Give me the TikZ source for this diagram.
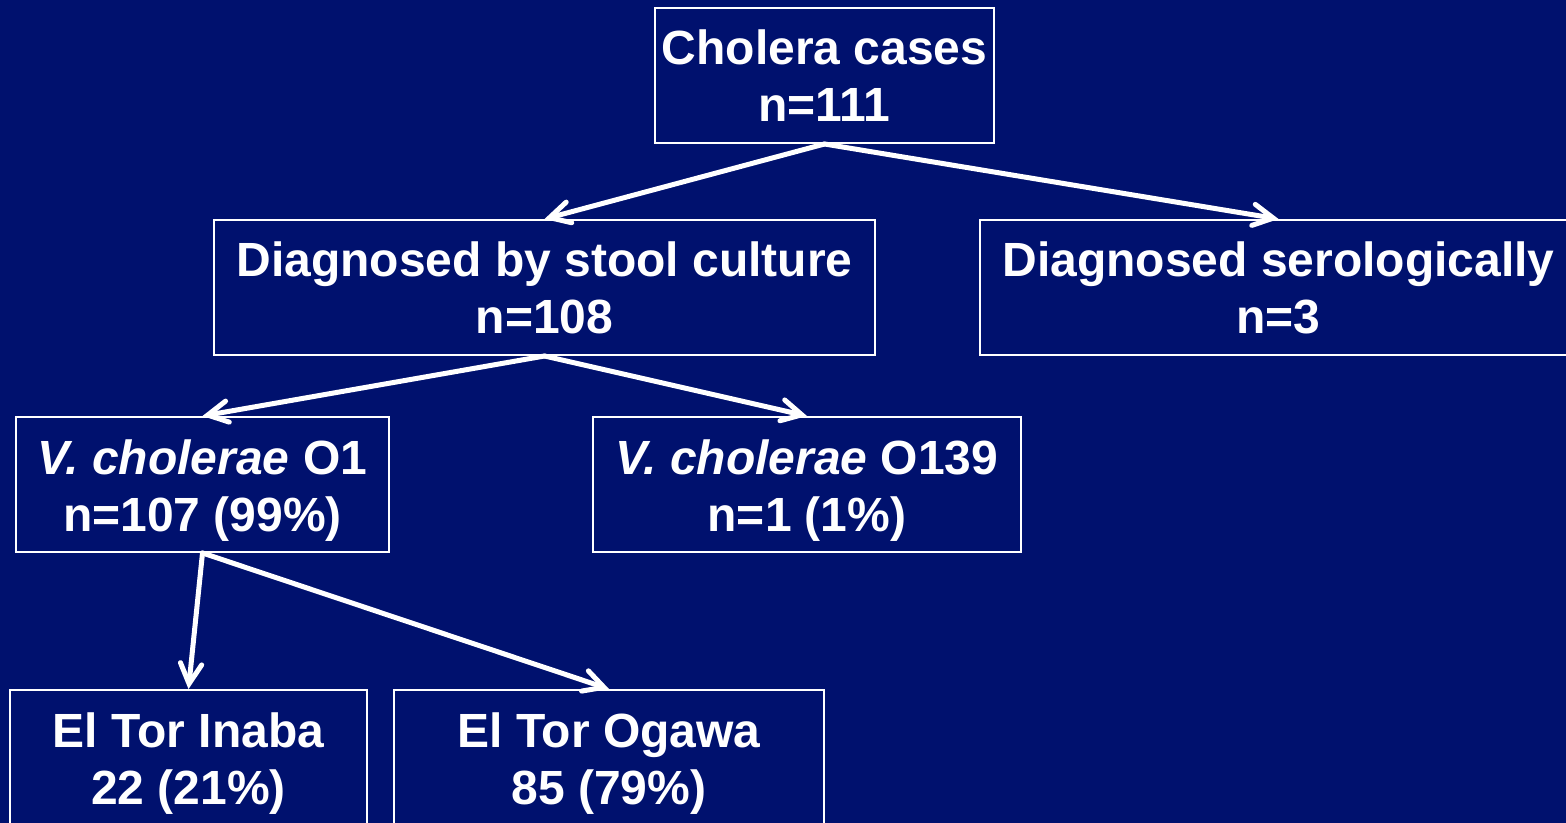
\documentclass[tikz,border=0pt]{standalone}
\usepackage{fontspec}
\setmainfont{Liberation Sans}
\usepackage{tikz}
\usetikzlibrary{arrows.meta}
\definecolor{slidebg}{RGB}{0,17,110}
\tikzstyle{box} = [draw=white,line width=1.5pt,rectangle,align=center,inner sep=0pt,minimum height=101.25pt,text=white]
\newcommand{\Vc}{\textit{V. cholerae}}
\newcommand{\dropline}{\rule{0pt}{35pt}}

\begin{document}
\begin{tikzpicture}
	[x=0.75pt,y=-0.75pt,font=\fontsize{36}{42.75}\selectfont\bfseries]
	\tikzstyle{arrow}=[draw=white,line width=3.75pt,line cap=round,-{Straight Barb[length=15pt,width=16pt,line cap=round]}];
	\useasboundingbox (0,0) rectangle (1566,823);
	\fill[slidebg] (0,0) rectangle (1566,823);
	\node (1) [box,minimum width=254.25pt] at (824.5,75.5) {Cholera cases\\n=111};
	\node (2) [box,minimum width=495.75pt] at (544.5,287.5) {Diagnosed by stool culture\\n=108};
	\node (3) [box,minimum width=447.75pt] at (1278.5,287.5) {Diagnosed serologically\\n=3};
	\node (4) [box,minimum width=279.75pt] at (202.5,484.5) {\dropline\Vc{} O1\\n=107 (99\%)};
	\node (5) [box,minimum width=321pt] at (807,484.5) {\dropline\Vc{} O139\\n=1 (1\%)};
	\node (6) [box,minimum width=267.75pt] at (188.5,757.5) {\dropline El Tor Inaba\\22 (21\%)};
	\node (7) [box,minimum width=322.5pt] at (609,757.5) {\dropline El Tor Ogawa\\85 (79\%)};
	\path
		(1.south) edge[arrow] (2.north)
		(1.south) edge[arrow] (3.north)
		(2.south) edge[arrow] (4.north)
		(2.south) edge[arrow] (5.north)
		(4.south) edge[arrow] (6.north)
		(4.south) edge[arrow] (7.north);
\end{tikzpicture}
\end{document}
